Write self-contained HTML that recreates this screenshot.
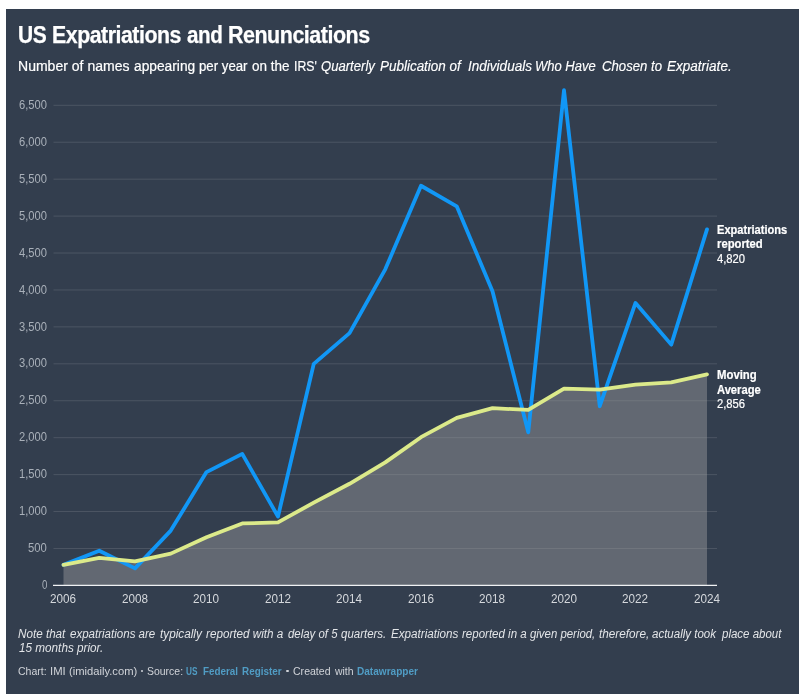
<!DOCTYPE html>
<html><head><meta charset="utf-8"><title>US Expatriations and Renunciations</title>
<style>
html,body{margin:0;padding:0;background:#fff;}
body{width:800px;height:698px;position:relative;overflow:hidden;font-family:"Liberation Sans",sans-serif;}
#panel{position:absolute;left:6px;top:9px;width:793px;height:685px;background:#333e4e;}
svg{position:absolute;left:0;top:0;}
#txt{position:absolute;left:0;top:0;width:800px;height:698px;will-change:transform;}
.s{position:absolute;white-space:nowrap;transform-origin:0 50%;}
.ti{top:23.7px;font-size:23px;line-height:23px;font-weight:bold;color:#fff;letter-spacing:-0.5px;-webkit-text-stroke:0.25px #fff;}
.su{top:59px;font-size:14px;line-height:14px;color:#fff;-webkit-text-stroke:0.2px #fff;}
.si{top:59px;font-size:14px;line-height:14px;font-style:italic;color:#fff;-webkit-text-stroke:0.15px #fff;}
.n1{top:627px;font-size:12px;line-height:14px;font-style:italic;color:#e3e5e8;}
.n2{top:641px;font-size:12px;line-height:14px;font-style:italic;color:#e3e5e8;}
.fo{top:665px;font-size:11px;line-height:13px;color:#d0d3d8;}
.fb{top:665px;font-size:11px;line-height:13px;font-weight:bold;color:#509cc4;}
.a1{top:223px;font-size:12px;line-height:14.3px;font-weight:bold;color:#fff;-webkit-text-stroke:0.2px #fff;}
.a2{top:237.3px;font-size:12px;line-height:14.3px;font-weight:bold;color:#fff;-webkit-text-stroke:0.2px #fff;}
.a3{top:251.9px;font-size:12px;line-height:14.3px;color:#fff;-webkit-text-stroke:0.2px #fff;}
.b1{top:368.2px;font-size:12px;line-height:14.3px;font-weight:bold;color:#fff;-webkit-text-stroke:0.2px #fff;}
.b2{top:383.3px;font-size:12px;line-height:14.3px;font-weight:bold;color:#fff;-webkit-text-stroke:0.2px #fff;}
.b3{top:396.9px;font-size:12px;line-height:14.3px;color:#fff;-webkit-text-stroke:0.2px #fff;}
.yl{font-size:12px;line-height:15px;color:#a9b0b9;}
.xl{top:592px;font-size:12px;line-height:15px;color:#d5d8dc;}
.bu{position:absolute;width:2.4px;height:2.4px;border-radius:50%;background:#d0d3d8;top:670.0px;}
</style></head><body>
<div id="panel"></div>
<svg width="800" height="698" viewBox="0 0 800 698">
<g stroke="rgba(255,255,255,0.12)" stroke-width="1"><line x1="53.5" x2="717" y1="548.47" y2="548.47"/><line x1="53.5" x2="717" y1="511.54" y2="511.54"/><line x1="53.5" x2="717" y1="474.61" y2="474.61"/><line x1="53.5" x2="717" y1="437.68" y2="437.68"/><line x1="53.5" x2="717" y1="400.75" y2="400.75"/><line x1="53.5" x2="717" y1="363.82" y2="363.82"/><line x1="53.5" x2="717" y1="326.89" y2="326.89"/><line x1="53.5" x2="717" y1="289.96" y2="289.96"/><line x1="53.5" x2="717" y1="253.03" y2="253.03"/><line x1="53.5" x2="717" y1="216.10" y2="216.10"/><line x1="53.5" x2="717" y1="179.17" y2="179.17"/><line x1="53.5" x2="717" y1="142.24" y2="142.24"/><line x1="53.5" x2="717" y1="105.31" y2="105.31"/></g>
<polygon points="63.50,585.4 63.50,564.87 99.25,557.78 135.00,561.30 170.75,553.62 206.50,537.32 242.25,523.41 278.00,522.43 313.75,502.61 349.50,483.79 385.25,462.34 421.00,437.20 456.75,417.95 492.50,408.20 528.25,409.93 564.00,388.61 599.75,389.71 635.50,384.61 671.25,382.39 707.00,374.34 707.00,585.4" fill="rgba(166,166,166,0.41)"/>
<line x1="53" x2="717" y1="585.4" y2="585.4" stroke="#f0f1f3" stroke-width="1.3"/>
<polyline points="63.50,564.87 99.25,550.69 135.00,568.34 170.75,530.60 206.50,472.10 242.25,453.86 278.00,516.56 313.75,363.89 349.50,333.17 385.25,269.35 421.00,185.74 456.75,206.28 492.50,291.22 528.25,432.36 564.00,90.17 599.75,406.22 635.50,302.96 671.25,344.62 707.00,229.39" fill="none" stroke="#1197f6" stroke-width="3.8" stroke-linejoin="round" stroke-linecap="round"/>
<polyline points="63.50,564.87 99.25,557.78 135.00,561.30 170.75,553.62 206.50,537.32 242.25,523.41 278.00,522.43 313.75,502.61 349.50,483.79 385.25,462.34 421.00,437.20 456.75,417.95 492.50,408.20 528.25,409.93 564.00,388.61 599.75,389.71 635.50,384.61 671.25,382.39 707.00,374.34" fill="none" stroke="#dcea8a" stroke-width="3.8" stroke-linejoin="round" stroke-linecap="round"/>
</svg>
<div id="txt">
<span class="s ti" style="left:17.64px;transform:scaleX(0.9117)">US</span>
<span class="s ti" style="left:51.52px;transform:scaleX(0.9263)">Expatriations</span>
<span class="s ti" style="left:187.00px;transform:scaleX(0.8960)">and</span>
<span class="s ti" style="left:228.07px;transform:scaleX(0.9325)">Renunciations</span>
<span class="s su" style="left:17.70px;transform:scaleX(1.0021)">Number of names</span>
<span class="s su" style="left:133.80px;transform:scaleX(0.9823)">appearing</span>
<span class="s su" style="left:198.70px;transform:scaleX(0.9440)">per year</span>
<span class="s su" style="left:252.30px;transform:scaleX(0.9633)">on the</span>
<span class="s su" style="left:293.82px;transform:scaleX(0.8752)">IRS'</span>
<span class="s si" style="left:321.20px;transform:scaleX(0.9356)">Quarterly</span>
<span class="s si" style="left:380.20px;transform:scaleX(0.9609)">Publication of</span>
<span class="s si" style="left:467.60px;transform:scaleX(0.9675)">Individuals</span>
<span class="s si" style="left:535.47px;transform:scaleX(0.9292)">Who Have</span>
<span class="s si" style="left:601.60px;transform:scaleX(0.9401)">Chosen to</span>
<span class="s si" style="left:666.50px;transform:scaleX(0.9662)">Expatriate.</span>
<span class="s n1" style="left:18.40px;transform:scaleX(0.9724)">Note that</span>
<span class="s n1" style="left:70.00px;transform:scaleX(0.9613)">expatriations are</span>
<span class="s n1" style="left:159.60px;transform:scaleX(0.9799)">typically</span>
<span class="s n1" style="left:206.00px;transform:scaleX(0.9736)">reported with a</span>
<span class="s n1" style="left:287.60px;transform:scaleX(0.9510)">delay of 5</span>
<span class="s n1" style="left:341.00px;transform:scaleX(0.9561)">quarters.</span>
<span class="s n1" style="left:390.60px;transform:scaleX(0.9716)">Expatriations</span>
<span class="s n1" style="left:462.00px;transform:scaleX(0.9601)">reported in a</span>
<span class="s n1" style="left:530.40px;transform:scaleX(0.9499)">given period,</span>
<span class="s n1" style="left:599.00px;transform:scaleX(0.9794)">therefore,</span>
<span class="s n1" style="left:652.00px;transform:scaleX(0.9601)">actually took</span>
<span class="s n1" style="left:721.96px;transform:scaleX(0.9574)">place about</span>
<span class="s n2" style="left:19.00px;transform:scaleX(0.9773)">15 months prior.</span>
<span class="s fo" style="left:18.40px;transform:scaleX(0.9566)">Chart:</span>
<span class="s fo" style="left:49.97px;transform:scaleX(1.0268)">IMI</span>
<span class="s fo" style="left:69.40px;transform:scaleX(1.0187)">(imidaily.com)</span>
<span class="s fo" style="left:147.00px;transform:scaleX(0.9510)">Source:</span>
<span class="s fb" style="left:186.40px;transform:scaleX(0.7495)">US</span>
<span class="s fb" style="left:203.00px;transform:scaleX(0.8958)">Federal</span>
<span class="s fb" style="left:242.40px;transform:scaleX(0.8986)">Register</span>
<span class="s fo" style="left:292.60px;transform:scaleX(0.9586)">Created</span>
<span class="s fo" style="left:334.55px;transform:scaleX(0.9489)">with</span>
<span class="s fb" style="left:357.00px;transform:scaleX(0.9146)">Datawrapper</span>
<span class="s a1" style="left:716.80px;transform:scaleX(0.9234)">Expatriations</span>
<span class="s a2" style="left:716.80px;transform:scaleX(0.9391)">reported</span>
<span class="s a3" style="left:717.20px;transform:scaleX(0.9356)">4,820</span>
<span class="s b1" style="left:716.80px;transform:scaleX(0.9457)">Moving</span>
<span class="s b2" style="left:716.80px;transform:scaleX(0.9314)">Average</span>
<span class="s b3" style="left:717.20px;transform:scaleX(0.9356)">2,856</span>
<span class="s yl" style="left:41.66px;top:578.04px;transform:scaleX(0.8059)">0</span>
<span class="s yl" style="left:28.18px;top:541.11px;transform:scaleX(0.9399)">500</span>
<span class="s yl" style="left:19.08px;top:504.18px;transform:scaleX(0.9296)">1,000</span>
<span class="s yl" style="left:19.08px;top:467.25px;transform:scaleX(0.9296)">1,500</span>
<span class="s yl" style="left:19.08px;top:430.32px;transform:scaleX(0.9296)">2,000</span>
<span class="s yl" style="left:19.08px;top:393.39px;transform:scaleX(0.9296)">2,500</span>
<span class="s yl" style="left:19.08px;top:356.46px;transform:scaleX(0.9296)">3,000</span>
<span class="s yl" style="left:19.08px;top:319.53px;transform:scaleX(0.9296)">3,500</span>
<span class="s yl" style="left:19.08px;top:282.60px;transform:scaleX(0.9296)">4,000</span>
<span class="s yl" style="left:19.08px;top:245.67px;transform:scaleX(0.9296)">4,500</span>
<span class="s yl" style="left:19.08px;top:208.74px;transform:scaleX(0.9296)">5,000</span>
<span class="s yl" style="left:19.08px;top:171.81px;transform:scaleX(0.9296)">5,500</span>
<span class="s yl" style="left:19.08px;top:134.88px;transform:scaleX(0.9296)">6,000</span>
<span class="s yl" style="left:19.08px;top:97.95px;transform:scaleX(0.9296)">6,500</span>
<span class="s xl" style="left:50.30px;transform:scaleX(0.9770)">2006</span>
<span class="s xl" style="left:121.80px;transform:scaleX(0.9770)">2008</span>
<span class="s xl" style="left:193.30px;transform:scaleX(0.9770)">2010</span>
<span class="s xl" style="left:264.80px;transform:scaleX(0.9770)">2012</span>
<span class="s xl" style="left:336.30px;transform:scaleX(0.9770)">2014</span>
<span class="s xl" style="left:407.80px;transform:scaleX(0.9770)">2016</span>
<span class="s xl" style="left:479.30px;transform:scaleX(0.9770)">2018</span>
<span class="s xl" style="left:550.80px;transform:scaleX(0.9770)">2020</span>
<span class="s xl" style="left:622.30px;transform:scaleX(0.9770)">2022</span>
<span class="s xl" style="left:693.80px;transform:scaleX(0.9770)">2024</span>
<i class="bu" style="left:140.8px"></i><i class="bu" style="left:286.3px"></i>
</div>
</body></html>
